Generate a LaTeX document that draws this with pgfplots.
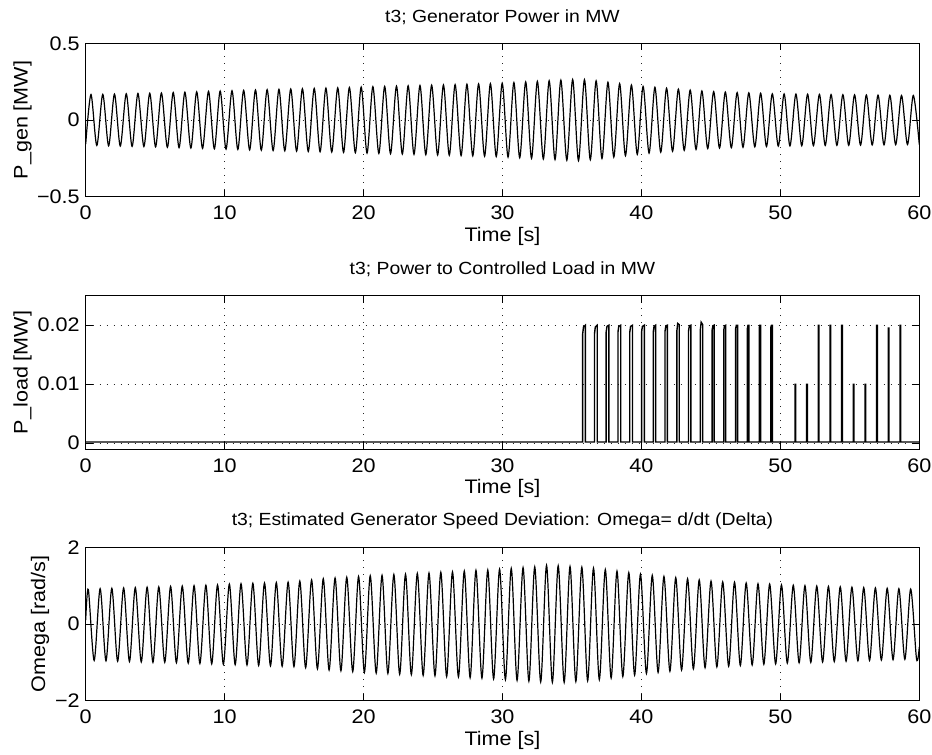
\documentclass[border=0pt]{standalone}
\usepackage{fontspec}
\setmainfont{Liberation Sans}[FakeStretch=1.1]
\usepackage{pgfplots}
\pgfplotsset{compat=1.18}
\pgfplotsset{
  matlab/.style={
    scale only axis, width=416.8pt, height=76.7pt,
    xmin=0, xmax=60, xtick={0,10,20,30,40,50,60},
    xticklabels={0,10,20,30,40,50,60},
    grid=major,
    major grid style={dash pattern=on 0.5pt off 3pt, black!85, line width=0.4pt},
    tick align=inside, major tick length=3.5pt,
    tick style={black, line width=0.5pt},
    axis line style={black, line width=0.5pt},
    scaled y ticks=false,
    xticklabel style={inner sep=0pt, anchor=north, yshift=-4.5pt},
    yticklabel style={inner sep=0pt, anchor=east, xshift=-2.8pt},
    xlabel={Time [s]},
    xlabel style={at={(axis description cs:0.5,0)}, anchor=north, inner sep=0pt, yshift=-15pt},
    title style={at={(axis description cs:0.5,1)}, anchor=center, yshift=7pt, font=\fontsize{8.8}{10.5}\selectfont},
  }
}
\begin{document}
\fontsize{9.8}{11.8}\selectfont
\begin{tikzpicture}
\path[use as bounding box] (-42.85pt,21.65pt) rectangle (423.15pt,-355.85pt);

\begin{axis}[matlab, at={(0pt,0pt)}, anchor=north west,
  ymin=-0.5, ymax=0.5, ytick={-0.5,0,0.5}, yticklabels={−0.5,0,0.5},
  ylabel={P\_gen [MW]},
  ylabel style={at={(axis description cs:-0.0758,0.5)}, anchor=center},
  title={t3; Generator Power in MW}]
\addplot[black, line width=0.6pt, smooth] coordinates {
(0,-0.157) (0.38,0.166) (0.80,-0.166) (1.23,0.167) (1.65,-0.168) (2.07,0.169) (2.49,-0.170) (2.92,0.171) (3.34,-0.172) (3.76,0.173) (4.19,-0.173) (4.61,0.174) (5.03,-0.175) (5.45,0.176) (5.88,-0.178) (6.30,0.179) (6.72,-0.180) (7.14,0.181) (7.57,-0.183) (7.99,0.184) (8.41,-0.185) (8.84,0.187) (9.26,-0.188) (9.68,0.189) (10.10,-0.190) (10.53,0.191) (10.95,-0.192) (11.37,0.193) (11.80,-0.195) (12.22,0.196) (12.64,-0.197) (13.06,0.198) (13.49,-0.199) (13.91,0.200) (14.33,-0.201) (14.76,0.202) (15.18,-0.203) (15.60,0.204) (16.02,-0.205) (16.45,0.206) (16.87,-0.207) (17.29,0.208) (17.71,-0.209) (18.14,0.210) (18.56,-0.211) (18.98,0.212) (19.41,-0.213) (19.83,0.215) (20.25,-0.216) (20.67,0.217) (21.10,-0.218) (21.52,0.219) (21.94,-0.220) (22.37,0.221) (22.79,-0.222) (23.21,0.223) (23.63,-0.224) (24.06,0.225) (24.48,-0.226) (24.90,0.227) (25.33,-0.228) (25.75,0.229) (26.17,-0.230) (26.59,0.231) (27.02,-0.232) (27.44,0.233) (27.86,-0.234) (28.28,0.235) (28.71,-0.236) (29.13,0.237) (29.55,-0.238) (29.98,0.240) (30.40,-0.242) (30.82,0.244) (31.24,-0.246) (31.67,0.248) (32.09,-0.250) (32.51,0.252) (32.94,-0.254) (33.36,0.256) (33.78,-0.258) (34.20,0.260) (34.63,-0.262) (35.05,0.264) (35.47,-0.265) (35.90,0.263) (36.32,-0.259) (36.74,0.255) (37.16,-0.251) (37.59,0.246) (38.01,-0.242) (38.43,0.237) (38.85,-0.233) (39.28,0.228) (39.70,-0.224) (40.12,0.219) (40.55,-0.216) (40.97,0.213) (41.39,-0.210) (41.81,0.207) (42.24,-0.204) (42.66,0.201) (43.08,-0.198) (43.51,0.195) (43.93,-0.192) (44.35,0.189) (44.77,-0.186) (45.20,0.185) (45.62,-0.183) (46.04,0.182) (46.47,-0.181) (46.89,0.179) (47.31,-0.178) (47.73,0.177) (48.16,-0.175) (48.58,0.174) (49.00,-0.173) (49.42,0.171) (49.85,-0.170) (50.27,0.170) (50.69,-0.169) (51.12,0.169) (51.54,-0.168) (51.96,0.168) (52.38,-0.167) (52.81,0.167) (53.23,-0.166) (53.65,0.166) (54.07,-0.165) (54.50,0.165) (54.92,-0.165) (55.34,0.164) (55.77,-0.164) (56.19,0.163) (56.61,-0.163) (57.03,0.162) (57.46,-0.162) (57.88,0.161) (58.30,-0.161) (58.72,0.160) (59.15,-0.160) (59.57,0.160) (60,-0.160)
};
\end{axis}

\begin{axis}[matlab, at={(0pt,-126.2pt)}, anchor=north west,
  ymin=-0.001, ymax=0.025, ytick={0,0.01,0.02}, yticklabels={0,0.01,0.02},
  ylabel={P\_load [MW]},
  ylabel style={at={(axis description cs:-0.0758,0.5)}, anchor=center},
  title={t3; Power to Controlled Load in MW}]
\addplot[black, line width=0.7pt, sharp plot] coordinates {
(0,0.0002)
(35.77,0.0002) (35.77,0.0185) (35.83,0.0197) (35.97,0.0200) (35.97,0.0002)
(36.62,0.0002) (36.62,0.0185) (36.68,0.0197) (36.82,0.0200) (36.82,0.0002)
(37.46,0.0002) (37.46,0.0188) (37.52,0.0198) (37.66,0.0200) (37.66,0.0002)
(38.31,0.0002) (38.31,0.0188) (38.37,0.0198) (38.51,0.0200) (38.51,0.0002)
(39.16,0.0002) (39.16,0.0188) (39.22,0.0198) (39.36,0.0200) (39.36,0.0002)
(40.01,0.0002) (40.01,0.0188) (40.07,0.0198) (40.21,0.0200) (40.21,0.0002)
(40.85,0.0002) (40.85,0.0188) (40.91,0.0198) (41.02,0.0200) (41.02,0.0002)
(41.70,0.0002) (41.70,0.0190) (41.76,0.0199) (41.87,0.0200) (41.87,0.0002)
(42.55,0.0002) (42.55,0.0190) (42.61,0.0203) (42.72,0.0201) (42.72,0.0002)
(43.39,0.0002) (43.39,0.0190) (43.45,0.0199) (43.56,0.0200) (43.56,0.0002)
(44.24,0.0002) (44.24,0.0192) (44.30,0.0205) (44.41,0.0201) (44.41,0.0002)
(45.09,0.0002) (45.09,0.0192) (45.14,0.0199) (45.23,0.0200) (45.23,0.0002)
(45.93,0.0002) (45.93,0.0192) (45.98,0.0199) (46.07,0.0200) (46.07,0.0002)
(46.78,0.0002) (46.78,0.0194) (46.83,0.0200) (46.92,0.0200) (46.92,0.0002)
(47.63,0.0002) (47.63,0.0195) (47.67,0.0200) (47.73,0.0200) (47.73,0.0002)
(48.48,0.0002) (48.48,0.0196) (48.52,0.0200) (48.58,0.0200) (48.58,0.0002)
(49.32,0.0002) (49.32,0.0197) (49.36,0.0200) (49.42,0.0200) (49.42,0.0002)
(51.05,0.0002) (51.05,0.0100) (51.10,0.0100) (51.10,0.0002)
(51.89,0.0002) (51.89,0.0100) (51.94,0.0100) (51.94,0.0002)
(52.73,0.0002) (52.73,0.0200) (52.78,0.0200) (52.78,0.0002)
(53.57,0.0002) (53.57,0.0200) (53.62,0.0200) (53.62,0.0002)
(54.41,0.0002) (54.41,0.0200) (54.46,0.0200) (54.46,0.0002)
(55.25,0.0002) (55.25,0.0100) (55.30,0.0100) (55.30,0.0002)
(56.09,0.0002) (56.09,0.0100) (56.14,0.0100) (56.14,0.0002)
(56.93,0.0002) (56.93,0.0200) (56.98,0.0200) (56.98,0.0002)
(57.77,0.0002) (57.77,0.0195) (57.82,0.0195) (57.82,0.0002)
(58.61,0.0002) (58.61,0.0200) (58.66,0.0200) (58.66,0.0002)
(60,0.0002)
};
\end{axis}

\begin{axis}[matlab, at={(0pt,-252pt)}, anchor=north west,
  ymin=-2, ymax=2, ytick={-2,0,2}, yticklabels={−2,0,2},
  ylabel={Omega [rad/s]},
  ylabel style={at={(axis description cs:-0.0548,0.5)}, anchor=center},
  title={t3; Estimated Generator Speed Deviation: Omega= d/dt (Delta)}]
\addplot[black, line width=0.6pt, smooth] coordinates {
(0,0.10) (0.19,0.90) (0.61,-0.95) (1.04,0.92) (1.46,-0.96) (1.88,0.93) (2.30,-0.97) (2.73,0.94) (3.15,-0.98) (3.57,0.95) (4.00,-0.99) (4.42,0.96) (4.84,-1.00) (5.26,0.97) (5.69,-1.00) (6.11,0.98) (6.53,-1.01) (6.95,0.99) (7.38,-1.02) (7.80,1.00) (8.22,-1.03) (8.65,1.01) (9.07,-1.04) (9.49,1.02) (9.91,-1.05) (10.34,1.04) (10.76,-1.06) (11.18,1.05) (11.61,-1.07) (12.03,1.06) (12.45,-1.08) (12.87,1.07) (13.30,-1.09) (13.72,1.08) (14.14,-1.10) (14.57,1.09) (14.99,-1.11) (15.41,1.12) (15.83,-1.14) (16.26,1.15) (16.68,-1.17) (17.10,1.18) (17.52,-1.20) (17.95,1.20) (18.37,-1.22) (18.79,1.22) (19.22,-1.24) (19.64,1.24) (20.06,-1.26) (20.48,1.26) (20.91,-1.28) (21.33,1.27) (21.75,-1.29) (22.18,1.29) (22.60,-1.31) (23.02,1.30) (23.44,-1.32) (23.87,1.32) (24.29,-1.34) (24.71,1.33) (25.14,-1.35) (25.56,1.35) (25.98,-1.37) (26.40,1.36) (26.83,-1.38) (27.25,1.38) (27.67,-1.40) (28.09,1.40) (28.52,-1.41) (28.94,1.41) (29.36,-1.43) (29.79,1.43) (30.21,-1.45) (30.63,1.45) (31.05,-1.47) (31.48,1.47) (31.90,-1.49) (32.32,1.49) (32.75,-1.51) (33.17,1.53) (33.59,-1.52) (34.01,1.52) (34.44,-1.52) (34.86,1.50) (35.28,-1.50) (35.71,1.48) (36.13,-1.48) (36.55,1.46) (36.97,-1.45) (37.40,1.42) (37.82,-1.41) (38.24,1.38) (38.66,-1.37) (39.09,1.34) (39.51,-1.33) (39.93,1.30) (40.36,-1.29) (40.78,1.27) (41.20,-1.26) (41.62,1.24) (42.05,-1.23) (42.47,1.21) (42.89,-1.20) (43.32,1.18) (43.74,-1.17) (44.16,1.15) (44.58,-1.14) (45.01,1.12) (45.43,-1.12) (45.85,1.10) (46.28,-1.10) (46.70,1.09) (47.12,-1.08) (47.54,1.07) (47.97,-1.07) (48.39,1.05) (48.81,-1.05) (49.23,1.04) (49.66,-1.04) (50.08,1.02) (50.50,-1.02) (50.93,1.01) (51.35,-1.01) (51.77,1.00) (52.19,-1.00) (52.62,0.99) (53.04,-0.99) (53.46,0.98) (53.88,-0.98) (54.31,0.97) (54.73,-0.97) (55.15,0.96) (55.58,-0.96) (56.00,0.95) (56.42,-0.95) (56.84,0.94) (57.27,-0.94) (57.69,0.93) (58.11,-0.93) (58.53,0.92) (58.96,-0.92) (59.38,0.91) (59.80,-0.91) (60,-0.60)
};
\end{axis}
\end{tikzpicture}
\end{document}
